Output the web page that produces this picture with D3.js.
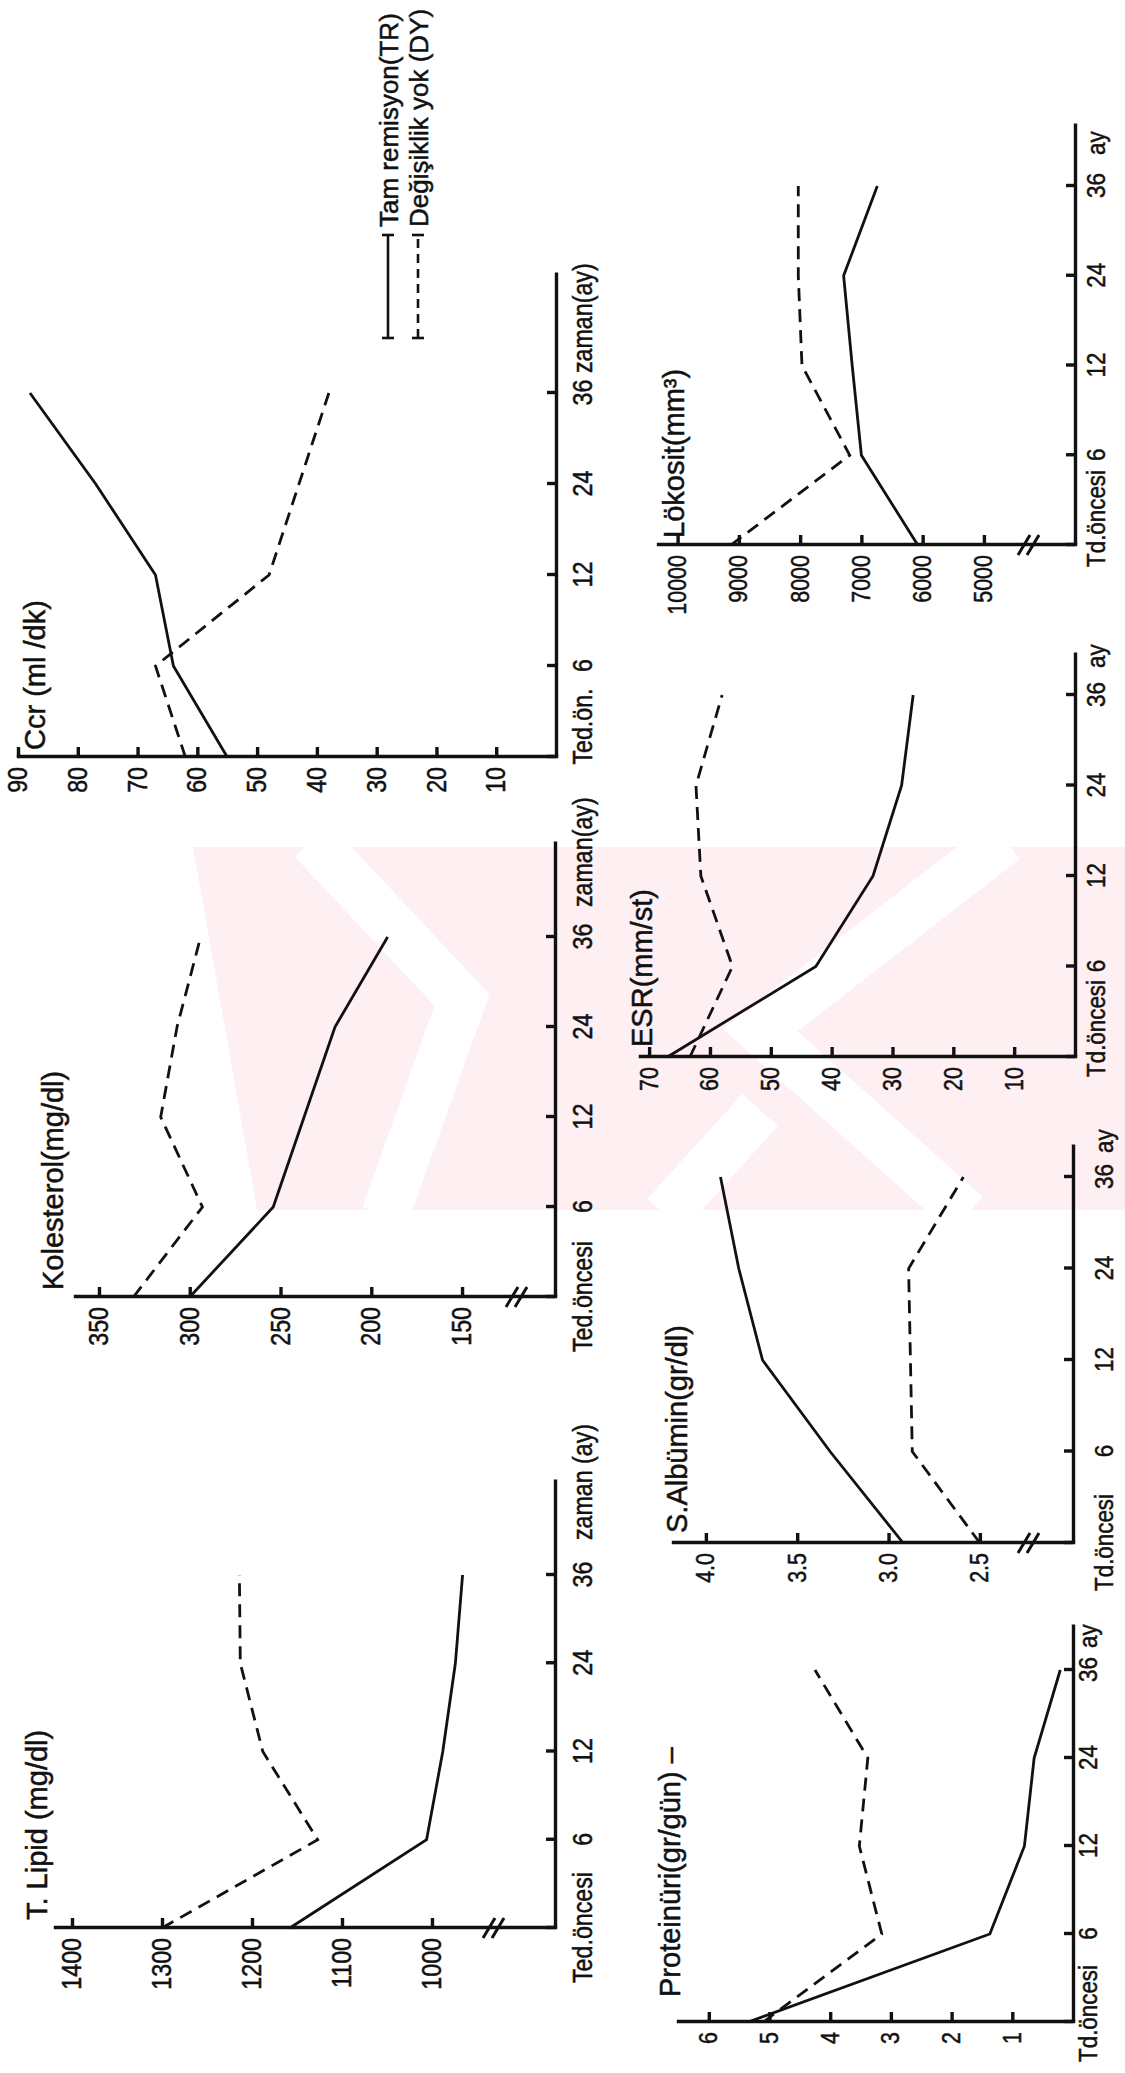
<!DOCTYPE html>
<html>
<head>
<meta charset="utf-8">
<script src="https://cdn.jsdelivr.net/npm/d3@7"></script>
<style>
  html, body { margin: 0; background: #fff; }
  svg { display: block; }
  text { paint-order: stroke; stroke: #111; stroke-width: 0.5px; }
</style>
</head>
<body>
<div id="chart"></div>
<script>
// Zaman noktaları (ay)
const timePoints = [0, 6, 12, 24, 36];

// T. Lipid (mg/dl)
const tLipidTicks = [1000, 1100, 1200, 1300, 1400];
const tLipidTR = [1158, 1006, 988, 974, 966];
const tLipidDY = [1300, 1127, 1188, 1213, 1214];
const tLipidLabels = ["Ted.öncesi", "6", "12", "24", "36"];

// Kolesterol (mg/dl)
const kolesterolTicks = [150, 200, 250, 300, 350];
const kolesterolTR = [300, 254, 237, 220, 191];
const kolesterolDY = [331, 293, 316, 307, 294];
const kolesterolLabels = ["Ted.öncesi", "6", "12", "24", "36"];

// Ccr (ml/dk)
const ccrTicks = [10, 20, 30, 40, 50, 60, 70, 80, 90];
const ccrTR = [55, 64, 67, 77, 88];
const ccrDY = [62, 67, 48, 43, 38];
const ccrLabels = ["Ted.ön.", "6", "12", "24", "36"];

// Proteinüri (gr/gün)
const proteinuriTicks = [1, 2, 3, 4, 5, 6];
const proteinuriTR = [5.35, 1.37, 0.8, 0.64, 0.21];
const proteinuriDY = [5.1, 3.15, 3.52, 3.38, 4.25];

// S.Albümin (gr/dl)
const albuminTicks = [2.5, 3.0, 3.5, 4.0];
const albuminTR = [2.92, 3.32, 3.69, 3.82, 3.92];
const albuminDY = [2.5, 2.87, 2.88, 2.89, 2.59];

// ESR (mm/st)
const esrTicks = [10, 20, 30, 40, 50, 60, 70];
const esrTR = [67, 42.6, 33.2, 28.5, 26.6];
const esrDY = [63.3, 56.3, 61.5, 62.3, 58];

// Lökosit (mm3)
const lokositTicks = [5000, 6000, 7000, 8000, 9000, 10000];
const lokositTR = [6080, 7000, 7150, 7290, 6740];
const lokositDY = [9130, 7190, 7970, 8030, 8030];

const tdLabels = ["Td.öncesi", "6", "12", "24", "36"];
const legendLabels = ["Tam remisyon(TR)", "Değişiklik yok (DY)"];

const width = 1125;
const height = 2073;
const FONT = "'Liberation Sans', Arial, sans-serif";

const svg = d3
  .select("#chart")
  .append("svg")
  .attr("width", width)
  .attr("height", height);

svg.append("rect").attr("width", width).attr("height", height).attr("fill", "#fff");

// Filigran (sayfa koordinatlarında)
const wm = svg.append("g");
wm.append("clipPath")
  .attr("id", "wmclip")
  .append("rect")
  .attr("x", 190).attr("y", 847).attr("width", 935).attr("height", 363);
const wmg = wm.append("g").attr("clip-path", "url(#wmclip)");
wmg.append("path")
  .attr("d", "M193,847H1125V1210H257Z")
  .attr("fill", "#fdeff2");
[
  [[312, 840], [462, 1000], [385, 1215]],
  [[1005, 840], [760, 1030], [967, 1215]],
  [[760, 1110], [665, 1215]]
].forEach((pts) => {
  wmg.append("path")
    .attr("d", d3.line()(pts))
    .attr("fill", "none")
    .attr("stroke", "#fff")
    .attr("stroke-width", 48);
});

// Grafikler yatay sayfada çizilir, sonra -90 derece döndürülür
const page = svg.append("g").attr("transform", `translate(0,${height}) rotate(-90)`);

const charts = [
  {
    title: "T. Lipid (mg/dl)", titlePos: [153, 47],
    ticks: tLipidTicks, fmt: d3.format("d"), tr: tLipidTR, dy: tLipidDY,
    labels: tLipidLabels, end: "zaman (ay)", endX: 533,
    x0: 145, x36: 498, xEnd: 593, axisY: 555, labelBase: 592, firstOffset: 0,
    vDomain: [863.3, 1418.9], yRange: [555, 55], breakY: 490, big: true
  },
  {
    title: "Kolesterol(mg/dl)", titlePos: [783, 63],
    ticks: kolesterolTicks, fmt: d3.format("d"), tr: kolesterolTR, dy: kolesterolDY,
    labels: kolesterolLabels, end: "zaman(ay)", endX: 1166,
    x0: 776, x36: 1136, xEnd: 1231, axisY: 555, labelBase: 592, firstOffset: 0,
    vDomain: [98.8, 363.2], yRange: [555, 75], breakY: 513, big: true
  },
  {
    title: "Ccr (ml /dk)", titlePos: [1323, 45],
    ticks: ccrTicks, fmt: d3.format("d"), tr: ccrTR, dy: ccrDY,
    labels: ccrLabels, end: "zaman(ay)", endX: 1700,
    x0: 1316, x36: 1680, xEnd: 1800, axisY: 556, labelBase: 592, firstOffset: 30,
    vDomain: [0, 90], yRange: [556, 18], breakY: null, big: true
  },
  {
    title: "Proteinüri(gr/gün) –", titlePos: [76, 680],
    ticks: proteinuriTicks, fmt: d3.format("d"), tr: proteinuriTR, dy: proteinuriDY,
    labels: tdLabels, end: "ay", endX: 425,
    x0: 51, x36: 403, xEnd: 448, axisY: 1073, labelBase: 1097, firstOffset: 8,
    vDomain: [0, 6.507], yRange: [1073, 678], breakY: null, big: false
  },
  {
    title: "S.Albümin(gr/dl)", titlePos: [540, 687],
    ticks: albuminTicks, fmt: d3.format(".1f"), tr: albuminTR, dy: albuminDY,
    labels: tdLabels, end: "ay", endX: 920,
    x0: 530, x36: 896, xEnd: 928, axisY: 1073, labelBase: 1113, firstOffset: 0,
    vDomain: [1.99, 4.18], yRange: [1073, 673], breakY: 1025, big: false
  },
  {
    title: "ESR(mm/st)", titlePos: [1026, 652],
    ticks: esrTicks, fmt: d3.format("d"), tr: esrTR, dy: esrDY,
    labels: tdLabels, end: "ay", endX: 1405,
    x0: 1016, x36: 1378, xEnd: 1420, axisY: 1075, labelBase: 1105, firstOffset: 28,
    vDomain: [0, 71.5], yRange: [1075, 640], breakY: null, big: false
  },
  {
    title: "Lökosit(mm³)", titlePos: [1535, 684],
    ticks: lokositTicks, fmt: d3.format("d"), tr: lokositTR, dy: lokositDY,
    labels: tdLabels, end: "ay", endX: 1918,
    x0: 1528, x36: 1887, xEnd: 1949, axisY: 1075, labelBase: 1105, firstOffset: 26,
    vDomain: [3513, 10320], yRange: [1075, 658], breakY: 1025, big: false
  }
];

// Dar yazı için yatay sıkıştırma
const condense = (sel, sx) => {
  sel.each(function () {
    const t = d3.select(this);
    const x = +t.attr("x") || 0;
    t.attr("x", null).attr("transform", `translate(${x},0) scale(${sx},1)`);
  });
};

const drawChart = (c) => {
  const g = page.append("g");
  const fs = c.big ? 27 : 25;

  const x = d3.scaleLinear().domain([0, timePoints.length - 1]).range([c.x0, c.x36]);
  const xAxisScale = d3.scaleLinear().domain([0, x.invert(c.xEnd)]).range([c.x0, c.xEnd]);
  const y = d3.scaleLinear().domain(c.vDomain).range(c.yRange);

  // Y ekseni
  const yAxis = g.append("g")
    .attr("transform", `translate(${c.x0},0)`)
    .call(d3.axisLeft(y).tickValues(c.ticks).tickFormat(c.fmt)
      .tickSizeInner(-10).tickSizeOuter(0).tickPadding(10));
  yAxis.attr("font-family", FONT).attr("font-size", fs);
  yAxis.selectAll("path, line").attr("stroke", "#111").attr("stroke-width", 3.4);
  yAxis.select(".domain").attr("stroke-linecap", "square");
  condense(yAxis.selectAll("text").attr("fill", "#111"), 0.86);

  // X ekseni
  const xAxis = g.append("g")
    .attr("transform", `translate(0,${c.axisY})`)
    .call(d3.axisBottom(xAxisScale).tickValues(d3.range(timePoints.length))
      .tickFormat((i) => c.labels[i]).tickSizeInner(-9).tickSizeOuter(0));
  xAxis.attr("font-family", FONT).attr("font-size", c.big ? 27 : 26);
  xAxis.selectAll("path, line").attr("stroke", "#111").attr("stroke-width", 3.4);
  xAxis.selectAll("text")
    .attr("fill", "#111")
    .attr("y", c.labelBase - c.axisY)
    .attr("dy", null)
    .attr("x", (d, i) => (i === 0 ? c.firstOffset : 0));
  condense(xAxis.selectAll("text"), 0.86);

  // Eksen kırığı
  if (c.breakY !== null) {
    [0, 9].forEach((k) => {
      g.append("line")
        .attr("x1", c.x0 - 10).attr("y1", c.breakY - 7 + k)
        .attr("x2", c.x0 + 10).attr("y2", c.breakY + 5 + k)
        .attr("stroke", "#111").attr("stroke-width", 3);
    });
  }

  // Çizgiler
  const line = d3.line().x((d, i) => x(i)).y((d) => y(d));
  g.append("path")
    .datum(c.tr)
    .attr("d", line)
    .attr("fill", "none")
    .attr("stroke", "#111")
    .attr("stroke-width", 2.8);
  g.append("path")
    .datum(c.dy)
    .attr("d", line)
    .attr("fill", "none")
    .attr("stroke", "#111")
    .attr("stroke-width", 2.8)
    .attr("stroke-dasharray", "13,8");

  // Başlık ve eksen sonu yazısı
  g.append("text")
    .attr("x", c.titlePos[0]).attr("y", c.titlePos[1])
    .attr("font-family", FONT).attr("font-size", 29).attr("fill", "#111")
    .text(c.title);
  g.append("text")
    .attr("transform", `translate(${c.endX},${c.labelBase}) scale(0.86,1)`)
    .attr("font-family", FONT).attr("font-size", c.big ? 27 : 26).attr("fill", "#111")
    .text(c.end);
};

charts.forEach(drawChart);

// Açıklama (lejant)
const legend = page.append("g");
legendLabels.forEach((label, i) => {
  const ly = 388 + i * 30;
  legend.append("line")
    .attr("x1", 1735).attr("x2", 1838).attr("y1", ly).attr("y2", ly)
    .attr("stroke", "#111").attr("stroke-width", 2.6)
    .attr("stroke-dasharray", i === 0 ? null : "9,6");
  [1735, 1838].forEach((ex) => {
    legend.append("line")
      .attr("x1", ex).attr("x2", ex).attr("y1", ly - 6).attr("y2", ly + 6)
      .attr("stroke", "#111").attr("stroke-width", 2.6);
  });
  legend.append("text")
    .attr("x", 1846).attr("y", ly + 10)
    .attr("font-family", FONT).attr("font-size", 26).attr("fill", "#111")
    .text(label);
});
</script>
</body>
</html>
